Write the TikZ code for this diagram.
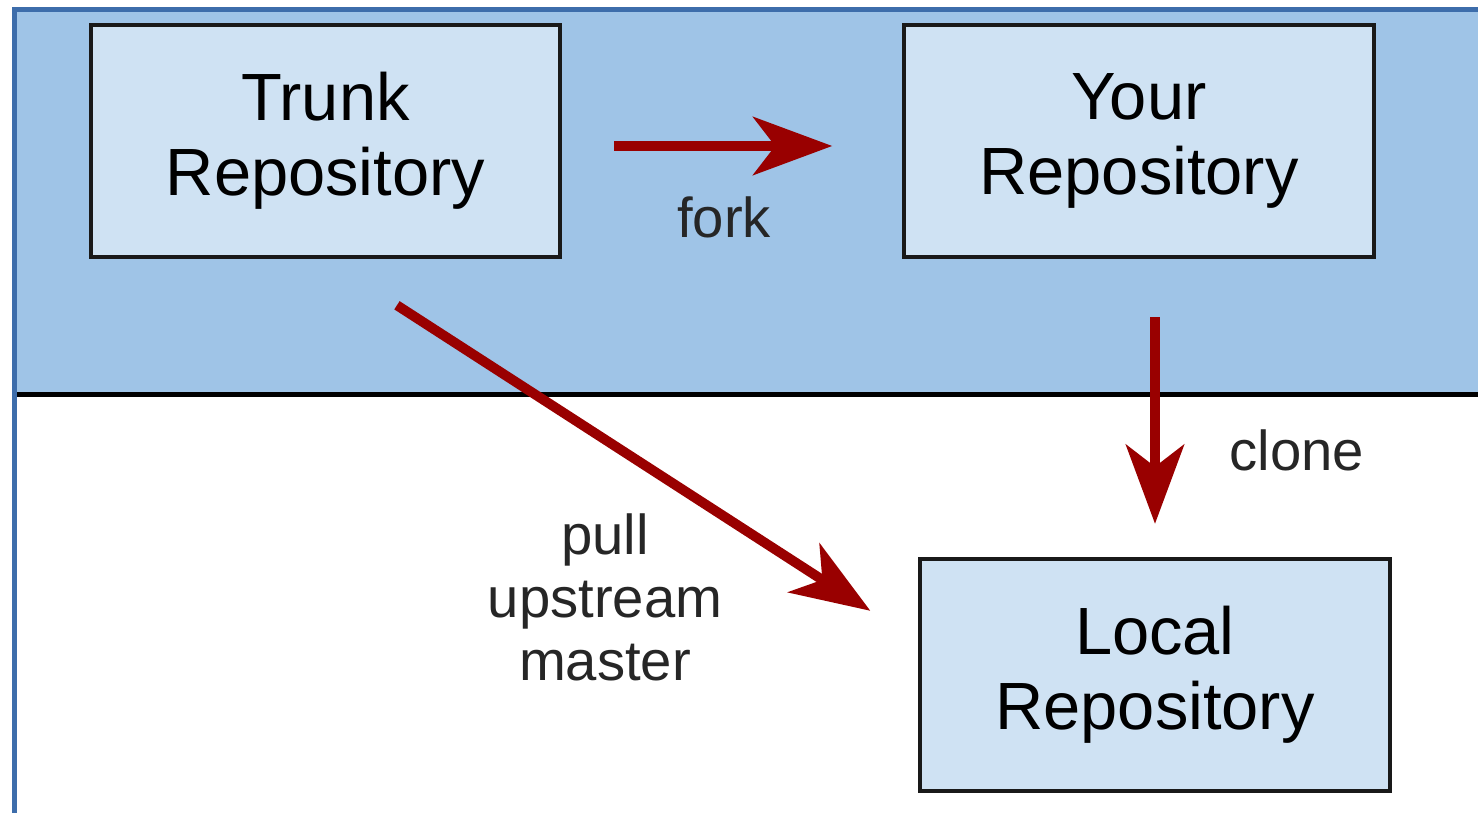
\documentclass[tikz,border=0pt]{standalone}
\usepackage{fontspec}
\setmainfont{Liberation Sans}
\usetikzlibrary{arrows.meta,positioning,calc}

\definecolor{bandblue}{HTML}{9FC4E7}
\definecolor{boxblue}{HTML}{CFE2F3}
\definecolor{frameblue}{HTML}{3D6DAB}
\definecolor{arrowred}{HTML}{990000}

\begin{document}
\begin{tikzpicture}[x=0.01cm,y=-0.01cm,
  ->,>={Stealth[length=0.79cm,width=0.58cm,inset=0.22cm]},
  repo/.style={draw=black!90,line width=1.2pt,fill=boxblue,minimum width=4.69cm,minimum height=2.32cm,align=center,font=\fontsize{19}{21.4}\selectfont},
  flow/.style={draw=arrowred,line width=2.8pt},
  lbl/.style={text=black!85,align=center,font=\fontsize{16}{17.9}\selectfont}]
\useasboundingbox (0,0) rectangle (1478,813);

% remote side on top, local side below the line
\fill[bandblue] (17,12) rectangle (1478,392);
\draw[-,black,line width=1.4pt] (17,394.5) -- (1478,394.5);
\draw[-,frameblue,line width=1.5pt] (14.5,813) -- (14.5,9.5) -- (1478,9.5);

\node[repo] (trunk) at (325.5,141) {Trunk\\Repository};
\node[repo] (yours) at (1139,141) {Your\\Repository};
\node[repo] (local) at (1155,675) {Local\\Repository};

\draw[flow,shorten <=0.52cm,shorten >=0.70cm] ($(trunk.east)+(0,5)$) -- ($(yours.west)+(0,5)$);
\draw[flow,shorten <=0.58cm,shorten >=0.33cm] (local.north |- yours.south) -- (local.north);
\draw[flow,shorten <=0.85cm,shorten >=0.57cm] (trunk.south) -- (local.172);

\node[lbl] (forklbl) at (724,217) {fork};
\node[lbl] (clonelbl) at (1297,450) {clone};
\node[lbl] (pulllbl) at (605,597) {pull\\upstream\\master};
\end{tikzpicture}
\end{document}
